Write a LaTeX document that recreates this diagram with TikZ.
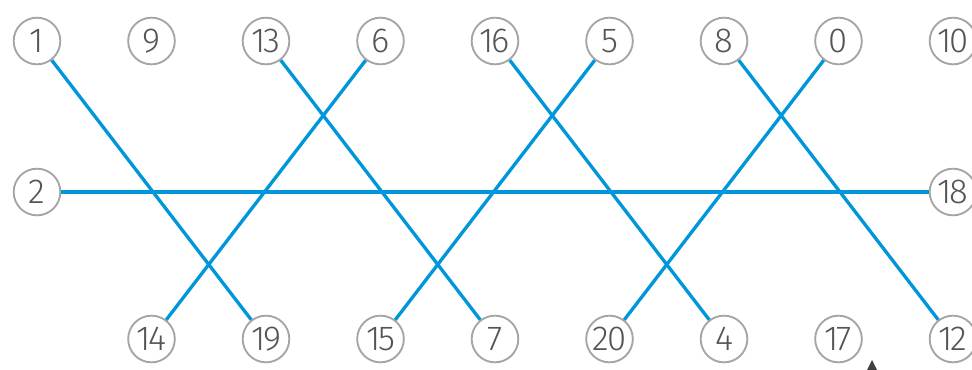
\documentclass[tikz,border=0pt]{standalone}
\usepackage{fontspec}
\setmainfont{Fira Sans Light}
\definecolor{lineblue}{RGB}{0,150,218}
\definecolor{ringgray}{RGB}{165,165,165}
\definecolor{digitgray}{RGB}{85,85,85}
\begin{document}
\begin{tikzpicture}[x=0.75pt,y=-0.75pt,
  num/.style={circle,draw=ringgray,line width=1.4pt,fill=white,minimum size=35pt,inner sep=0pt,
    text=digitgray,font=\fontsize{26}{26}\selectfont\addfontfeatures{LetterSpace=-7}},
  link/.style={lineblue,line width=2.5pt}]
\useasboundingbox (0,0) rectangle (972,369);
% top row
\node[num] (n1)  at (37,41)    {1};
\node[num] (n9)  at (151.5,41) {9};
\node[num] (n13) at (266,41)   {13};
\node[num] (n6)  at (380.5,41) {6};
\node[num] (n16) at (495,41)   {16};
\node[num] (n5)  at (609.5,41) {5};
\node[num] (n8)  at (724,41)   {8};
\node[num] (n0)  at (838.5,41) {0};
\node[num] (n10) at (953,41)   {10};
% middle row
\node[num] (n2)  at (37,192)  {2};
\node[num] (n18) at (953,192) {18};
% bottom row
\node[num] (n14) at (151.5,339) {14};
\node[num] (n19) at (266,339)   {19};
\node[num] (n15) at (380.5,339) {15};
\node[num] (n7)  at (495,339)   {7};
\node[num] (n20) at (609.5,339) {20};
\node[num] (n4)  at (724,339)   {4};
\node[num] (n17) at (838.5,339) {17};
\node[num] (n12) at (953,339)   {12};
% connectors
\draw[link] (n2) -- (n18);
\draw[link] (n1) -- (n19);
\draw[link] (n13) -- (n7);
\draw[link] (n6) -- (n14);
\draw[link] (n16) -- (n4);
\draw[link] (n5) -- (n15);
\draw[link] (n8) -- (n12);
\draw[link] (n0) -- (n20);
% small caret at the bottom edge
\fill[black!75] (867,370) -- (872,360) -- (877,370) -- cycle;
\end{tikzpicture}
\end{document}
